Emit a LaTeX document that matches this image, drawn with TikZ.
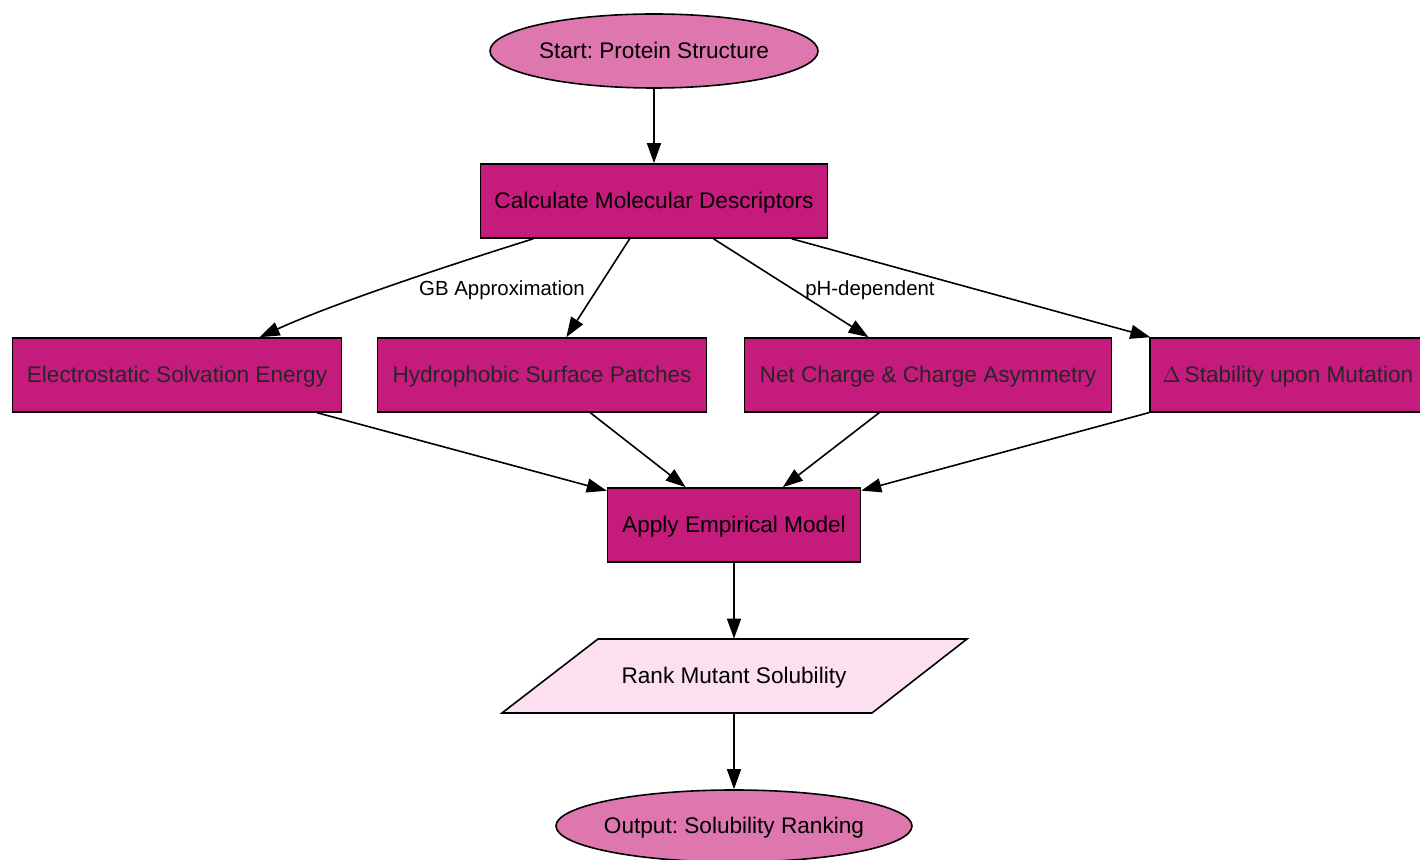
\documentclass[tikz,border=0pt]{standalone}
\usepackage{fontspec}
\setmainfont{Liberation Sans}
\usepackage{tikz}
\usetikzlibrary{shapes.geometric,arrows.meta}

\definecolor{endpink}{HTML}{DE77AE}
\definecolor{stepmag}{HTML}{C51B7D}
\definecolor{outpink}{HTML}{FDE0EF}
\definecolor{txtdark}{HTML}{262626}
\frenchspacing

\begin{document}
\begin{tikzpicture}[x=0.5pt,y=-0.5pt]
     \tikzstyle{every node}=[font=\fontsize{11.3}{13}\selectfont,text height=9.5pt,text depth=1.5pt]
     \tikzstyle{endnode}=[ellipse,draw,line width=0.8pt,fill=endpink,inner sep=0pt]
     \tikzstyle{stepbox}=[rectangle,draw,line width=0.8pt,fill=stepmag,text=txtdark,minimum height=37pt,inner sep=0pt]
     \tikzstyle{flow}=[line width=0.8pt,-{Triangle[length=10pt,width=7pt]}]
     \tikzstyle{lbl}=[font=\fontsize{10.2}{12}\selectfont,inner sep=1pt,text height=8.5pt,text depth=1.5pt]
      \useasboundingbox (0,0) rectangle (1420,860);
      % top
      \node[endnode,minimum width=164pt,minimum height=37pt] (start) at (654,51) {Start: Protein Structure};
      \node[stepbox,minimum width=173.5pt,text=black] (calc) at (654,201) {Calculate Molecular Descriptors};
      % descriptors
      \node[stepbox,minimum width=164.5pt] (elec) at (177,375) {Electrostatic Solvation Energy};
      \node[stepbox,minimum width=164.5pt] (hydro) at (542,375) {Hydrophobic Surface Patches};
      \node[stepbox,minimum width=183.5pt] (charge) at (928,375) {Net Charge \& Charge Asymmetry};
      \node[stepbox,minimum width=138pt] (stab) at (1288,375) {$\Delta$\,Stability upon Mutation};
      % model and output
      \node[stepbox,minimum width=126.5pt,text=black] (model) at (734,525) {Apply Empirical Model};
      \coordinate (rBL) at (502,713);
      \coordinate (rTL) at (598,639);
      \coordinate (rTR) at (967,639);
      \coordinate (rBR) at (872,713);
      \filldraw[line width=0.8pt,fill=outpink] (rBL) -- (rTL) -- (rTR) -- (rBR) -- cycle;
      \node[minimum width=184.5pt,minimum height=37pt,inner sep=0pt] (rank) at (734,676) {Rank Mutant Solubility};
      \node[endnode,inner xsep=-4pt,minimum width=178pt,minimum height=36pt] (out) at (734,826) {Output: Solubility Ranking};
      % edge labels
      \node[lbl] (gb) at (502,289) {GB Approximation};
      \node[lbl] (ph) at (870,289) {pH-dependent};
      % connectors
      \draw[flow] (start) -- (calc);
      \draw[flow] (calc) .. controls (440,268) and (330,305) .. (elec);
      \draw[flow] (calc) -- (hydro);
      \draw[flow] (calc) -- (charge);
      \draw[flow] (calc) -- (stab);
      \draw[flow] (elec) -- (model);
      \draw[flow] (hydro) -- (model);
      \draw[flow] (charge) -- (model);
      \draw[flow] (stab) -- (model);
      \draw[flow] (model) -- (rank);
      \draw[flow] (rank) -- (out);
    \end{tikzpicture}
\end{document}
